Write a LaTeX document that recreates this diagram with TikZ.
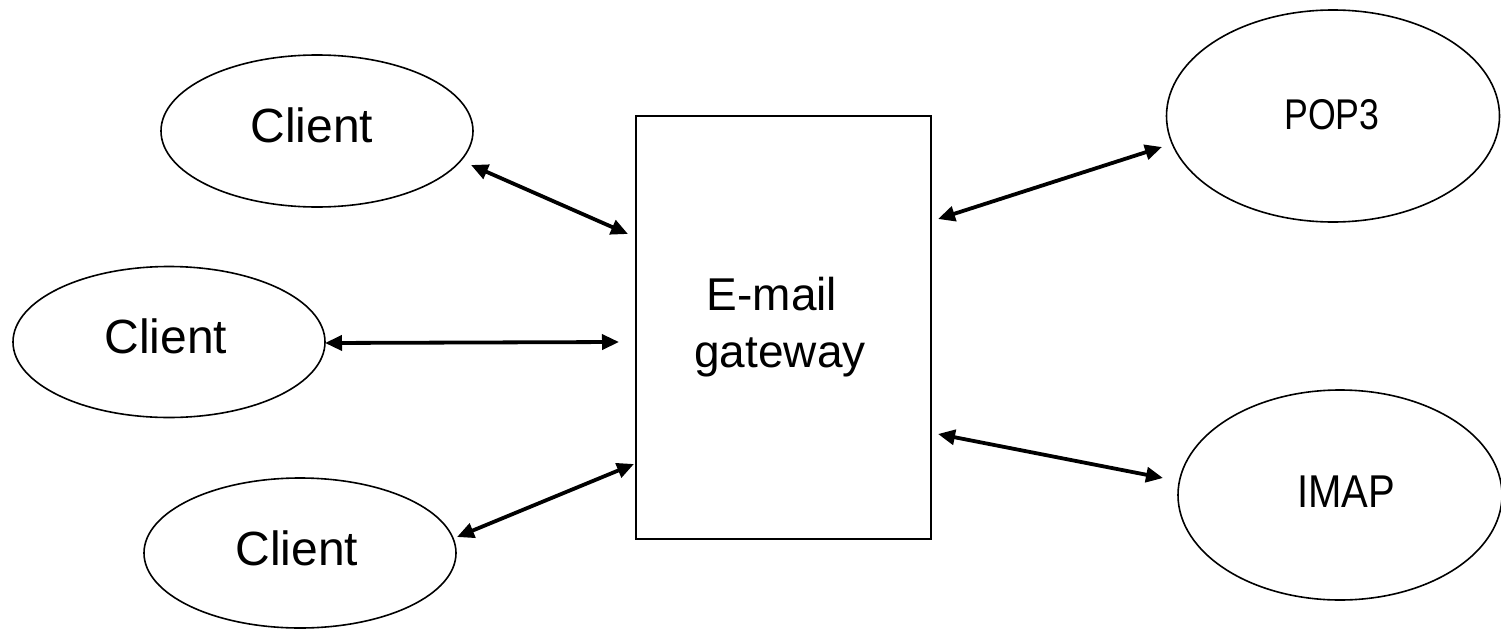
\documentclass[tikz,border=0pt]{standalone}
\usepackage{fontspec}
\setmainfont{Liberation Sans}
\usetikzlibrary{shapes.geometric,arrows.meta}
\begin{document}
\begin{tikzpicture}[x=1pt,y=1pt,
  oval/.style={draw=black,line width=1.6pt,ellipse,inner sep=0pt},
  gwbox/.style={draw=black,line width=2pt,rectangle,inner sep=0pt,minimum width=295pt,minimum height=423pt},
  lbl/.style={inner sep=0pt,anchor=base,font=\fontsize{48}{57}\selectfont},
  conn/.style={line width=3.8pt,{Triangle[length=17pt,width=15pt]}-{Triangle[length=17pt,width=15pt]}}]
\useasboundingbox (0,0) rectangle (1501,-629);
% client ellipses
\node[oval,minimum width=312pt,minimum height=152pt] (c1) at (317,-131) {};
\node[oval,minimum width=312pt,minimum height=151pt] (c2) at (169,-342) {};
\node[oval,minimum width=312pt,minimum height=150pt] (c3) at (300,-553) {};
% server ellipses
\node[oval,minimum width=333pt,minimum height=212pt] (pop) at (1333,-116) {};
\node[oval,minimum width=324pt,minimum height=210pt] (imap) at (1340,-495) {};
% gateway
\node[gwbox] (gw) at (783.5,-327.5) {};
% labels
\node[lbl] (t1) at (312,-142) {Client};
\node[lbl] (t2) at (166,-353) {Client};
\node[lbl] (t3) at (297,-565) {Client};
\node[lbl,font=\fontsize{43}{52}\selectfont] (tp) at (1332,-129) {\scalebox{0.83}[1]{POP3}};
\node[lbl,font=\fontsize{46}{55}\selectfont] (ti) at (1346,-507) {\scalebox{0.87}[1]{IMAP}};
\node[lbl,font=\fontsize{46}{55}\selectfont] (tg1) at (772,-310) {E-mail};
\node[lbl,font=\fontsize{46}{55}\selectfont] (tg2) at (780,-367) {gateway};
% connectors
\draw[conn] ([shift={(154,-34)}]c1.center) -- ([shift={(-7,-119)}]gw.north west);
\draw[conn] ([shift={(156,-1)}]c2.center) -- ([shift={(-16,-227)}]gw.north west);
\draw[conn] ([shift={(157,16)}]c3.center) -- ([shift={(-1,-349)}]gw.north west);
\draw[conn] ([shift={(6,-104)}]gw.north east) -- ([shift={(-171,-31)}]pop.center);
\draw[conn] ([shift={(6,-319)}]gw.north east) -- ([shift={(-177,17)}]imap.center);
\end{tikzpicture}
\end{document}
